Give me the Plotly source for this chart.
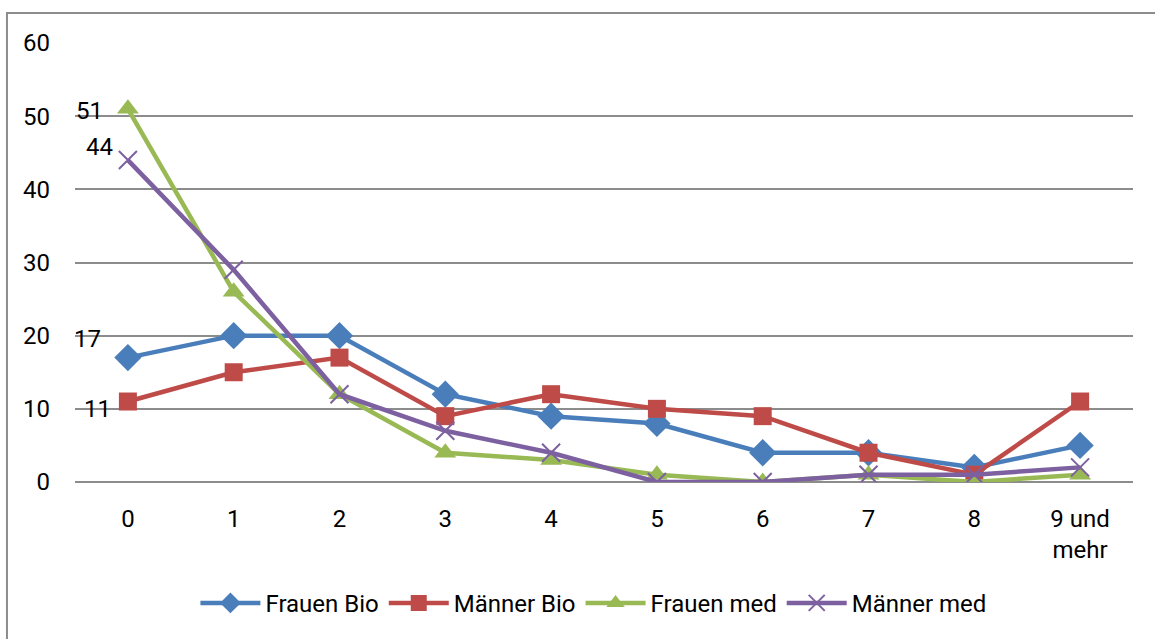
import plotly.graph_objects as go

categories = ["0", "1", "2", "3", "4", "5", "6", "7", "8", "9 und<br>mehr"]
frauen_bio = [17, 20, 20, 12, 9, 8, 4, 4, 2, 5]
maenner_bio = [11, 15, 17, 9, 12, 10, 9, 4, 1, 11]
frauen_med = [51, 26, 12, 4, 3, 1, 0, 1, 0, 1]
maenner_med = [44, 29, 12, 7, 4, 0, 0, 1, 1, 2]
y_ticks = [0, 10, 20, 30, 40, 50, 60]

FONT = "Roboto, Open Sans, sans-serif"
FS = 24

series = [
    ("Frauen Bio", frauen_bio, "#4A7EBB", "diamond", 21, (-40, 19)),
    ("Männer Bio", maenner_bio, "#BE4B48", "square", 18, (-30, -7)),
    ("Frauen med", frauen_med, "#98B954", "triangle-up", 19, (-38, -2)),
    ("Männer med", maenner_med, "#7D60A0", "x-thin", 18, (-28, 13)),
]

fig = go.Figure()
annotations = []
for name, vals, color, sym, size, (dx, dy) in series:
    marker = dict(symbol=sym, size=size, color=color)
    if sym == "x-thin":
        marker["line"] = dict(color=color, width=2)
    else:
        marker["line"] = dict(width=0)
    fig.add_trace(go.Scatter(
        x=categories, y=vals, name=name, mode="lines+markers",
        line=dict(color=color, width=4.5), marker=marker,
    ))
    annotations.append(dict(
        x=categories[0], y=vals[0], xref="x", yref="y", text=str(vals[0]),
        showarrow=False, xshift=dx, yshift=dy,
        font=dict(family=FONT, size=FS, color="black"),
    ))

fig.update_layout(
    width=1155, height=639,
    margin=dict(l=75, r=22, t=43, b=157),
    paper_bgcolor="white", plot_bgcolor="white",
    font=dict(family=FONT, size=FS, color="black"),
    showlegend=True,
    legend=dict(orientation="h", x=0.49, xanchor="center", y=-0.225, yanchor="top",
                font=dict(family=FONT, size=FS), itemwidth=60, tracegroupgap=0),
    annotations=annotations,
    shapes=[dict(type="rect", xref="paper", yref="paper",
                 x0=-0.0643, x1=1.03, y0=-0.38, y1=1.0683,
                 line=dict(color="#8C8C8C", width=2), fillcolor="rgba(0,0,0,0)",
                 layer="below")],
)
fig.update_xaxes(type="category", range=[-0.5, 9.5], showgrid=False, zeroline=False,
                 showline=False, ticks="", ticklabelstandoff=20,
                 tickfont=dict(family=FONT, size=FS))
fig.update_yaxes(range=[0, 60], tickvals=y_ticks, showgrid=True, gridcolor="#8C8C8C",
                 gridwidth=1.5, zeroline=True, zerolinecolor="#8C8C8C", zerolinewidth=1.5,
                 showline=False, ticks="", ticklabelstandoff=24,
                 tickfont=dict(family=FONT, size=FS))

fig.write_html("out.html")
